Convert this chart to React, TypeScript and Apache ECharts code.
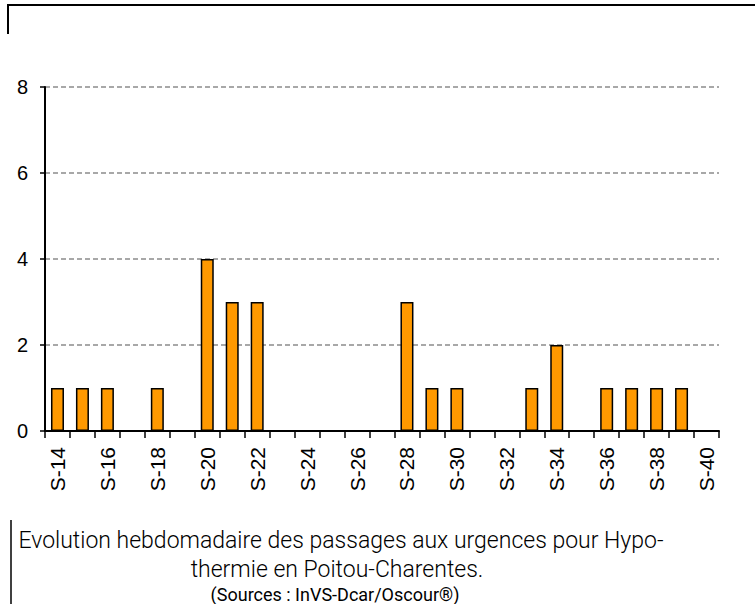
import React, { useEffect, useRef } from "react";
import * as echarts from "echarts";

const weeks = [
  "S-14", "S-15", "S-16", "S-17", "S-18", "S-19", "S-20", "S-21", "S-22", "S-23",
  "S-24", "S-25", "S-26", "S-27", "S-28", "S-29", "S-30", "S-31", "S-32", "S-33",
  "S-34", "S-35", "S-36", "S-37", "S-38", "S-39", "S-40",
];
const passages = [1, 1, 1, 0, 1, 0, 4, 3, 3, 0, 0, 0, 0, 0, 3, 1, 1, 0, 0, 1, 2, 0, 1, 1, 1, 1, 0];
const captionLines = [
  "Evolution hebdomadaire des passages aux urgences pour Hypo-",
  "thermie en Poitou-Charentes.",
];
const sourceLine = "(Sources : InVS-Dcar/Oscour®)";

export default function App() {
  const ref = useRef<HTMLDivElement>(null);
  useEffect(() => {
    if (!ref.current) return;
    const chart = echarts.init(ref.current, null, { renderer: "svg" });
    chart.setOption({
      animation: false,
      backgroundColor: "#ffffff",
      grid: { left: 45, right: 36, top: 87, bottom: 173, containLabel: false },
      xAxis: {
        type: "category",
        data: weeks,
        boundaryGap: true,
        axisLine: { lineStyle: { color: "#000", width: 2 } },
        axisTick: { show: true, interval: 0, length: 7, alignWithLabel: false, lineStyle: { color: "#000", width: 1.5 } },
        axisLabel: {
          interval: 1,
          rotate: 90,
          margin: 16,
          fontFamily: "Liberation Sans, Arial, sans-serif",
          fontSize: 21,
          color: "#000",
        },
      },
      yAxis: {
        type: "value",
        min: 0,
        max: 8,
        interval: 2,
        axisLine: { show: true, lineStyle: { color: "#000", width: 2 } },
        axisTick: { show: true, length: 5, lineStyle: { color: "#000", width: 1.5 } },
        axisLabel: {
          margin: 17,
          fontFamily: "Liberation Sans, Arial, sans-serif",
          fontSize: 20,
          color: "#000",
        },
        splitLine: { show: true, lineStyle: { color: "#8c8c8c", width: 1.5, type: [5, 3] } },
      },
      series: [
        {
          type: "bar",
          data: passages,
          barWidth: 13,
          itemStyle: { color: "#FF9900", borderColor: "#000", borderWidth: 1.5 },
        },
      ],
      graphic: [
        { type: "line", shape: { x1: 7, y1: 5, x2: 755, y2: 5 }, style: { stroke: "#000", lineWidth: 2 } },
        { type: "line", shape: { x1: 8, y1: 4, x2: 8, y2: 34 }, style: { stroke: "#000", lineWidth: 2 } },
        { type: "line", shape: { x1: 11, y1: 520, x2: 11, y2: 604 }, style: { stroke: "#000", lineWidth: 1.5 } },
        {
          type: "text",
          x: 341,
          y: 540,
          style: {
            text: captionLines[0],
            fontFamily: "Roboto, sans-serif",
            fontWeight: 300,
            fontSize: 23,
            fill: "#000",
            textAlign: "center",
            textVerticalAlign: "middle",
          },
        },
        {
          type: "text",
          x: 337,
          y: 569,
          style: {
            text: captionLines[1],
            fontFamily: "Roboto, sans-serif",
            fontWeight: 300,
            fontSize: 23,
            fill: "#000",
            textAlign: "center",
            textVerticalAlign: "middle",
          },
        },
        {
          type: "text",
          x: 335,
          y: 594,
          style: {
            text: sourceLine,
            fontFamily: "Roboto, sans-serif",
            fontWeight: 400,
            fontSize: 18,
            fill: "#000",
            textAlign: "center",
            textVerticalAlign: "middle",
          },
        },
      ],
    });
    return () => chart.dispose();
  }, []);
  return (
    <div
      ref={ref}
      style={{ position: "absolute", left: 0, top: 0, width: 755, height: 604 }}
    />
  );
}
